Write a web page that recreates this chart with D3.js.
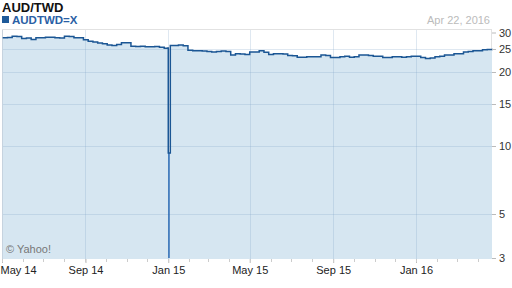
<!DOCTYPE html>
<html><head><meta charset="utf-8">
<script src="https://cdn.jsdelivr.net/npm/d3@7"></script>
<style>body{margin:0;background:#fff}svg{display:block;font-family:"Liberation Sans",Arial,sans-serif}</style>
</head><body><svg id="c" width="512" height="288"></svg>
<script>
const title = "AUD/TWD";
const seriesName = "AUDTWD=X";
const lastDateLabel = "Apr 22, 2016";
const startDate = "2014-05-02";
const endDate = "2016-04-22";
const weeklyValues = [
 28.3,28.4,28.75,28.7,28.1, 28.2,27.8,28.3,28.3, 28.5,28.5,28.3,28.2, 28.75,28.7,28.3,28.3,27.7,
 27.2,27.0,26.7,26.5, 26.1,26.0,26.3,26.8,26.8, 25.8,25.7,25.8,25.6, 25.6,25.7,25.5,25.2,
 26.0,26.0,26.1,25.9,24.7, 24.6,24.6,24.5,24.4, 24.3,24.4,24.5,24.4, 23.6,23.85,23.8,23.7,
 24.3,24.3,24.6,24.2,23.7, 23.85,23.9,23.8,23.5, 23.4,23.1,23.1,23.2,23.2, 23.2,23.6,23.5,23.0,
 23.0,23.2,23.3,23.1, 23.2,23.6,23.6,23.5,23.3, 23.3,23.0,23.0,23.2, 23.2,23.1,23.2,23.3,
 23.3,23.0,22.8,22.9,23.2, 23.3,23.6,23.6,23.85, 23.9,24.3,24.4,24.6, 24.6,24.8,24.9,24.7
];
const spikeDates = ["2014-12-31","2015-01-01","2015-01-02","2015-01-04"];
const spikeValues = [25.3, 9.3, 9.3, 26.0];
const spikeLowDate = "2015-01-02";
const spikeLow = 3;
const yTicks = [3,5,10,15,20,25,30];
const xTickLabels = ["May 14","Sep 14","Jan 15","May 15","Sep 15","Jan 16"];

const parse = d3.timeParse("%Y-%m-%d");
const dates = d3.timeFriday.range(parse(startDate), d3.timeDay.offset(parse(endDate),1));
const spikeSet = new Set(spikeDates);
const fmt = d3.timeFormat("%Y-%m-%d");
let data = dates.map((d,i)=>({date:d, value:weeklyValues[i]})).filter(d=>!spikeSet.has(fmt(d.date)));
spikeDates.forEach((s,i)=>data.push({date:parse(s), value:spikeValues[i]}));
data.sort((a,b)=>a.date-b.date);

const svg = d3.select("#c");
const L=2, R=492, T=29, B=259;
const x = d3.scaleTime().domain([parse("2014-05-01"), parse("2016-04-22")]).range([L,R]);
const y = d3.scaleLog().domain([3,5,10,15,20,25,30]).range([258,214,146,104,72,49,32.5]);

svg.append("rect").attr("x",L+0.5).attr("y",T+0.5).attr("width",R-L-1).attr("height",B-T-1)
  .attr("fill","#fff").attr("stroke","#e2e2e2");

const curve = d3.curveStepAfter;
const area = d3.area().curve(curve).x(d=>x(d.date)).y0(B).y1(d=>y(d.value));
svg.append("path").datum(data).attr("d",area).attr("fill","#d6e6f1");

const majorDates = d3.timeMonth.every(4).range(parse("2014-05-01"), parse("2016-04-23"));
const g = svg.append("g").attr("stroke","#7fa3c8").attr("stroke-opacity",0.25);
g.selectAll(".vg").data(majorDates).join("line")
  .attr("x1",d=>Math.round(x(d))+0.5).attr("x2",d=>Math.round(x(d))+0.5).attr("y1",T+1).attr("y2",B);
g.selectAll(".hg").data(yTicks.slice(1,-1)).join("line")
  .attr("x1",L+1).attr("x2",R).attr("y1",d=>Math.round(y(d))+0.5).attr("y2",d=>Math.round(y(d))+0.5);

const line = d3.line().curve(curve).x(d=>x(d.date)).y(d=>y(d.value));
svg.append("line").attr("x1",x(parse(spikeLowDate))).attr("x2",x(parse(spikeLowDate)))
  .attr("y1",y(spikeValues[1])).attr("y2",Math.min(B,y(spikeLow))).attr("stroke","#1f62b0").attr("stroke-width",1.4);
svg.append("path").datum(data).attr("d",line).attr("fill","none").attr("stroke","#1b5694").attr("stroke-width",1.5);

// right axis
const ya = d3.axisRight(y).tickValues(yTicks).tickFormat(d3.format("d")).tickSize(4).tickPadding(3);
const yg = svg.append("g").attr("transform",`translate(${R},0)`).call(ya);
yg.select(".domain").remove();
yg.selectAll("line").attr("stroke","#bbb");
yg.selectAll("text").attr("font-size",11).attr("fill","#333");

// bottom axis
const xa = d3.axisBottom(x).tickValues(majorDates).tickFormat((d,i)=>xTickLabels[i]).tickSize(4).tickPadding(3);
const xg = svg.append("g").attr("transform",`translate(0,${B})`).call(xa);
xg.select(".domain").remove();
xg.selectAll("line").attr("stroke","#bbb");
xg.selectAll("text").attr("font-size",11).attr("fill","#222");
xg.selectAll(".tick").filter((d,i)=>i===0).select("text").attr("text-anchor","start").attr("x",-2);
const minor = d3.timeMonth.range(parse("2014-05-01"), parse("2016-04-23"));
svg.append("g").selectAll("line").data(minor).join("line")
  .attr("x1",d=>Math.round(x(d))+0.5).attr("x2",d=>Math.round(x(d))+0.5).attr("y1",B).attr("y2",B+3).attr("stroke","#ccc");

// texts
svg.append("text").attr("x",2).attr("y",12).attr("font-size",13).attr("font-weight","bold").attr("fill","#111").text(title);
svg.append("rect").attr("x",2).attr("y",16).attr("width",7).attr("height",7).attr("fill","#1f5a99");
svg.append("text").attr("x",12).attr("y",24).attr("font-size",11.5).attr("font-weight","bold").attr("fill","#2a5fa5").text(seriesName);
svg.append("text").attr("x",490).attr("y",24).attr("text-anchor","end").attr("font-size",11).attr("fill","#bbb").text(lastDateLabel);
svg.append("text").attr("x",6).attr("y",253).attr("font-size",11).attr("fill","#777").text("© Yahoo!");
</script></body></html>
